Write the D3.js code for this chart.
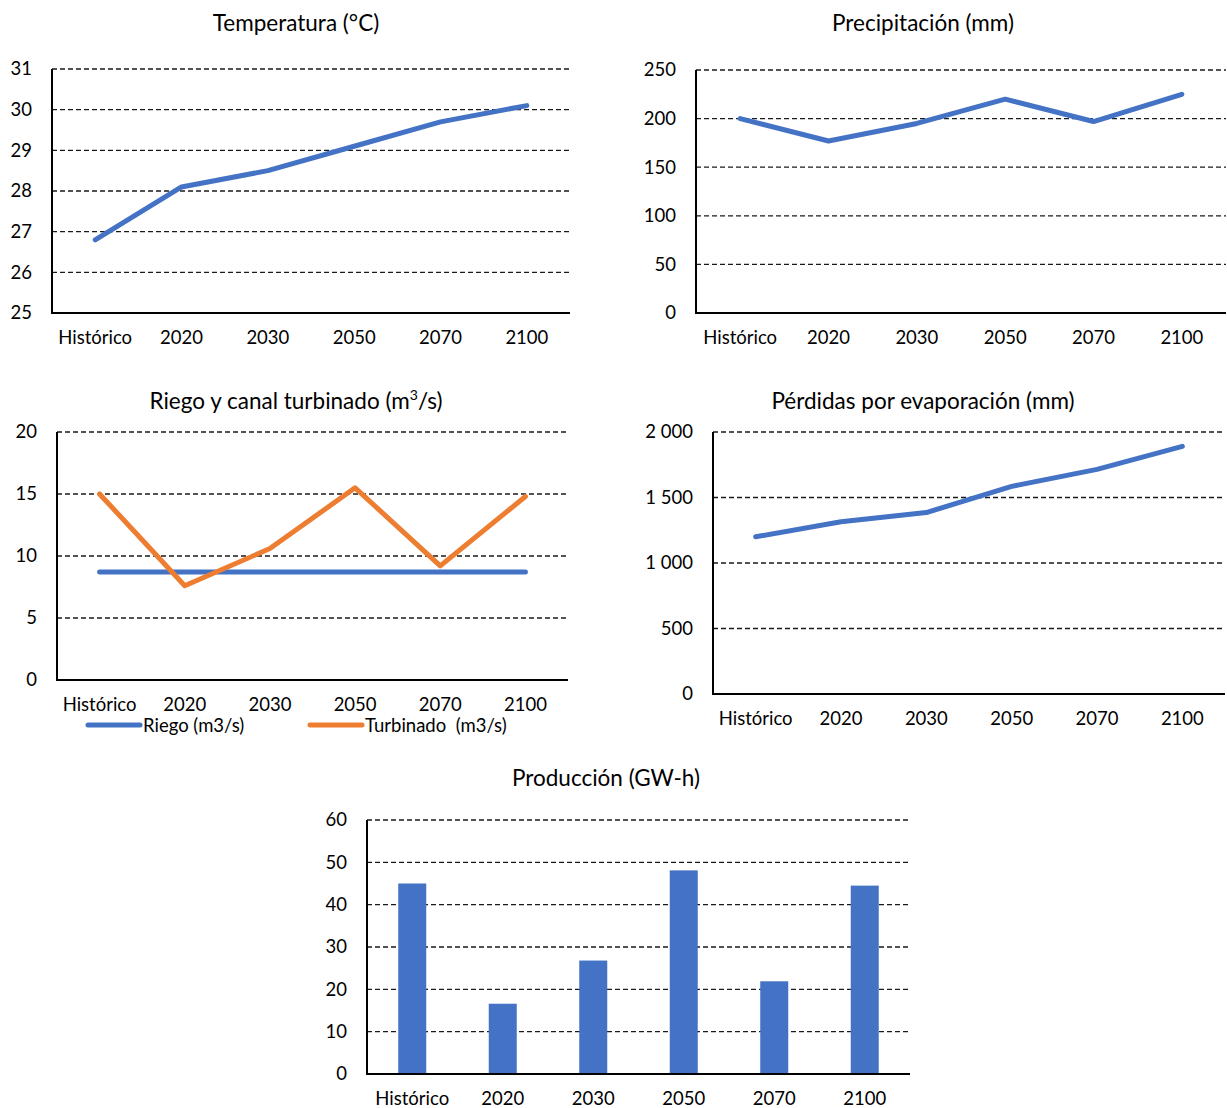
<!DOCTYPE html>
<html><head><meta charset="utf-8">
<script src="https://cdn.jsdelivr.net/npm/d3@7"></script>
<style>body{margin:0;background:#fff}svg{display:block}text{font-family:Lato,"Open Sans",sans-serif;fill:#000}</style>
</head><body>
<svg id="c" width="1227" height="1108"></svg>
<script>
const categories = ["Histórico","2020","2030","2050","2070","2100"];
const temperatura = [26.8, 28.1, 28.5, 29.1, 29.7, 30.1];
const precipitacion = [200, 177, 195, 220, 197, 225];
const riego = [8.7, 8.7, 8.7, 8.7, 8.7, 8.7];
const turbinado = [15.0, 7.6, 10.6, 15.5, 9.2, 14.8];
const evaporacion = [1200, 1315, 1385, 1585, 1715, 1890];
const produccion = [45.0, 16.6, 26.8, 48.1, 21.9, 44.5];
const tempTicks = [25,26,27,28,29,30,31];
const precTicks = [0,50,100,150,200,250];
const riegoTicks = [0,5,10,15,20];
const evapTicks = [0,500,1000,1500,2000];
const prodTicks = [0,10,20,30,40,50,60];

const BLUE = "#4472C4", ORANGE = "#ED7D31";
const svg = d3.select("#c");

function panel(o){
  const g = svg.append("g");
  const x = d3.scaleBand().domain(categories).range([o.x0, o.x1]);
  const y = d3.scaleLinear().domain(o.domain).range([o.yb, o.yt]);
  // grid
  g.selectAll("line.grid").data(o.ticks.filter(t=>t!==o.domain[0])).join("line")
    .attr("x1", o.x0).attr("x2", o.x1).attr("y1", d=>y(d)).attr("y2", d=>y(d))
    .attr("stroke", "#1a1a1a").attr("stroke-width", 1.3).attr("stroke-dasharray", "5,3");
  // y axis labels
  const ya = d3.axisLeft(y).tickValues(o.ticks).tickSize(0).tickPadding(o.pad||20).tickFormat(o.fmt||d3.format("d"));
  const yg = g.append("g").attr("transform", `translate(${o.x0},0)`).call(ya);
  yg.select(".domain").remove();
  yg.selectAll("text").attr("font-size", 18.5).attr("font-family", "Lato, sans-serif").attr("fill", "#000");
  // x axis labels
  const xa = d3.axisBottom(x).tickSize(0).tickPadding(o.xpad||18);
  const xg = g.append("g").attr("transform", `translate(0,${o.yb})`).call(xa);
  xg.select(".domain").remove();
  xg.selectAll("text").attr("font-size", 18.5).attr("font-family", "Lato, sans-serif").attr("fill", "#000");
  // bars
  if (o.bars) {
    const bw = 28;
    g.selectAll("rect.bar").data(o.bars).join("rect")
      .attr("x", (d,i)=>x(categories[i]) + x.bandwidth()/2 - bw/2)
      .attr("width", bw)
      .attr("y", d=>y(d)).attr("height", d=>y(o.domain[0]) - y(d))
      .attr("fill", BLUE);
  }
  // lines
  (o.series||[]).forEach(s=>{
    const line = d3.line().x((d,i)=>x(categories[i]) + x.bandwidth()/2).y(d=>y(d));
    g.append("path").datum(s.values).attr("d", line).attr("fill","none")
      .attr("stroke", s.color).attr("stroke-width", 5).attr("stroke-linejoin","round").attr("stroke-linecap","round");
  });
  // axes lines
  g.append("line").attr("x1", o.x0).attr("x2", o.x0).attr("y1", o.yt).attr("y2", o.yb).attr("stroke","#000").attr("stroke-width",2);
  g.append("line").attr("x1", o.x0-1).attr("x2", o.x1).attr("y1", o.yb).attr("y2", o.yb).attr("stroke","#000").attr("stroke-width",2);
  // title
  const t = g.append("text").attr("x", o.tx).attr("y", o.ty).attr("text-anchor","middle").attr("font-size", 22.5);
  if (o.titleSup) {
    t.append("tspan").text(o.title[0]);
    t.append("tspan").text(o.titleSup).attr("font-size", 14).attr("dy", -9);
    t.append("tspan").text(o.title[1]).attr("dy", 9);
  } else t.text(o.title);
  return {x, y, g};
}

panel({x0:52, x1:570, yt:69, yb:313, domain:[25,31], ticks:tempTicks, title:"Temperatura (°C)", tx:296, ty:31,
  series:[{values:temperatura, color:BLUE}]});
panel({x0:696, x1:1226, yt:70, yb:313, domain:[0,250], ticks:precTicks, title:"Precipitación (mm)", tx:923, ty:31,
  series:[{values:precipitacion, color:BLUE}]});
panel({x0:57, x1:568, yt:432, yb:680, domain:[0,20], ticks:riegoTicks, title:["Riego y canal turbinado (m","/s)"], titleSup:"3", tx:296, ty:409,
  series:[{values:riego, color:BLUE},{values:turbinado, color:ORANGE}], xpad:18});
panel({x0:713, x1:1225, yt:432, yb:694, domain:[0,2000], ticks:evapTicks, title:"Pérdidas por evaporación (mm)", tx:923, ty:409,
  fmt: d=>d3.format(",")(d).replace(",", " "), series:[{values:evaporacion, color:BLUE}], xpad:18});
panel({x0:367, x1:910, yt:820, yb:1074, domain:[0,60], ticks:prodTicks, title:"Producción (GW-h)", tx:606, ty:786,
  bars:produccion, xpad:18});

// legend
const legend = [{name:"Riego (m3/s)", color:BLUE, x:88}, {name:"Turbinado  (m3/s)", color:ORANGE, x:310}];
const lg = svg.append("g");
legend.forEach(l=>{
  lg.append("line").attr("x1", l.x).attr("x2", l.x+52).attr("y1", 725).attr("y2", 725)
    .attr("stroke", l.color).attr("stroke-width", 5).attr("stroke-linecap","round");
  lg.append("text").attr("x", l.x+55).attr("y", 732).attr("font-size", 18.5).attr("xml:space","preserve").style("white-space","pre").text(l.name);
});
</script>
</body></html>
